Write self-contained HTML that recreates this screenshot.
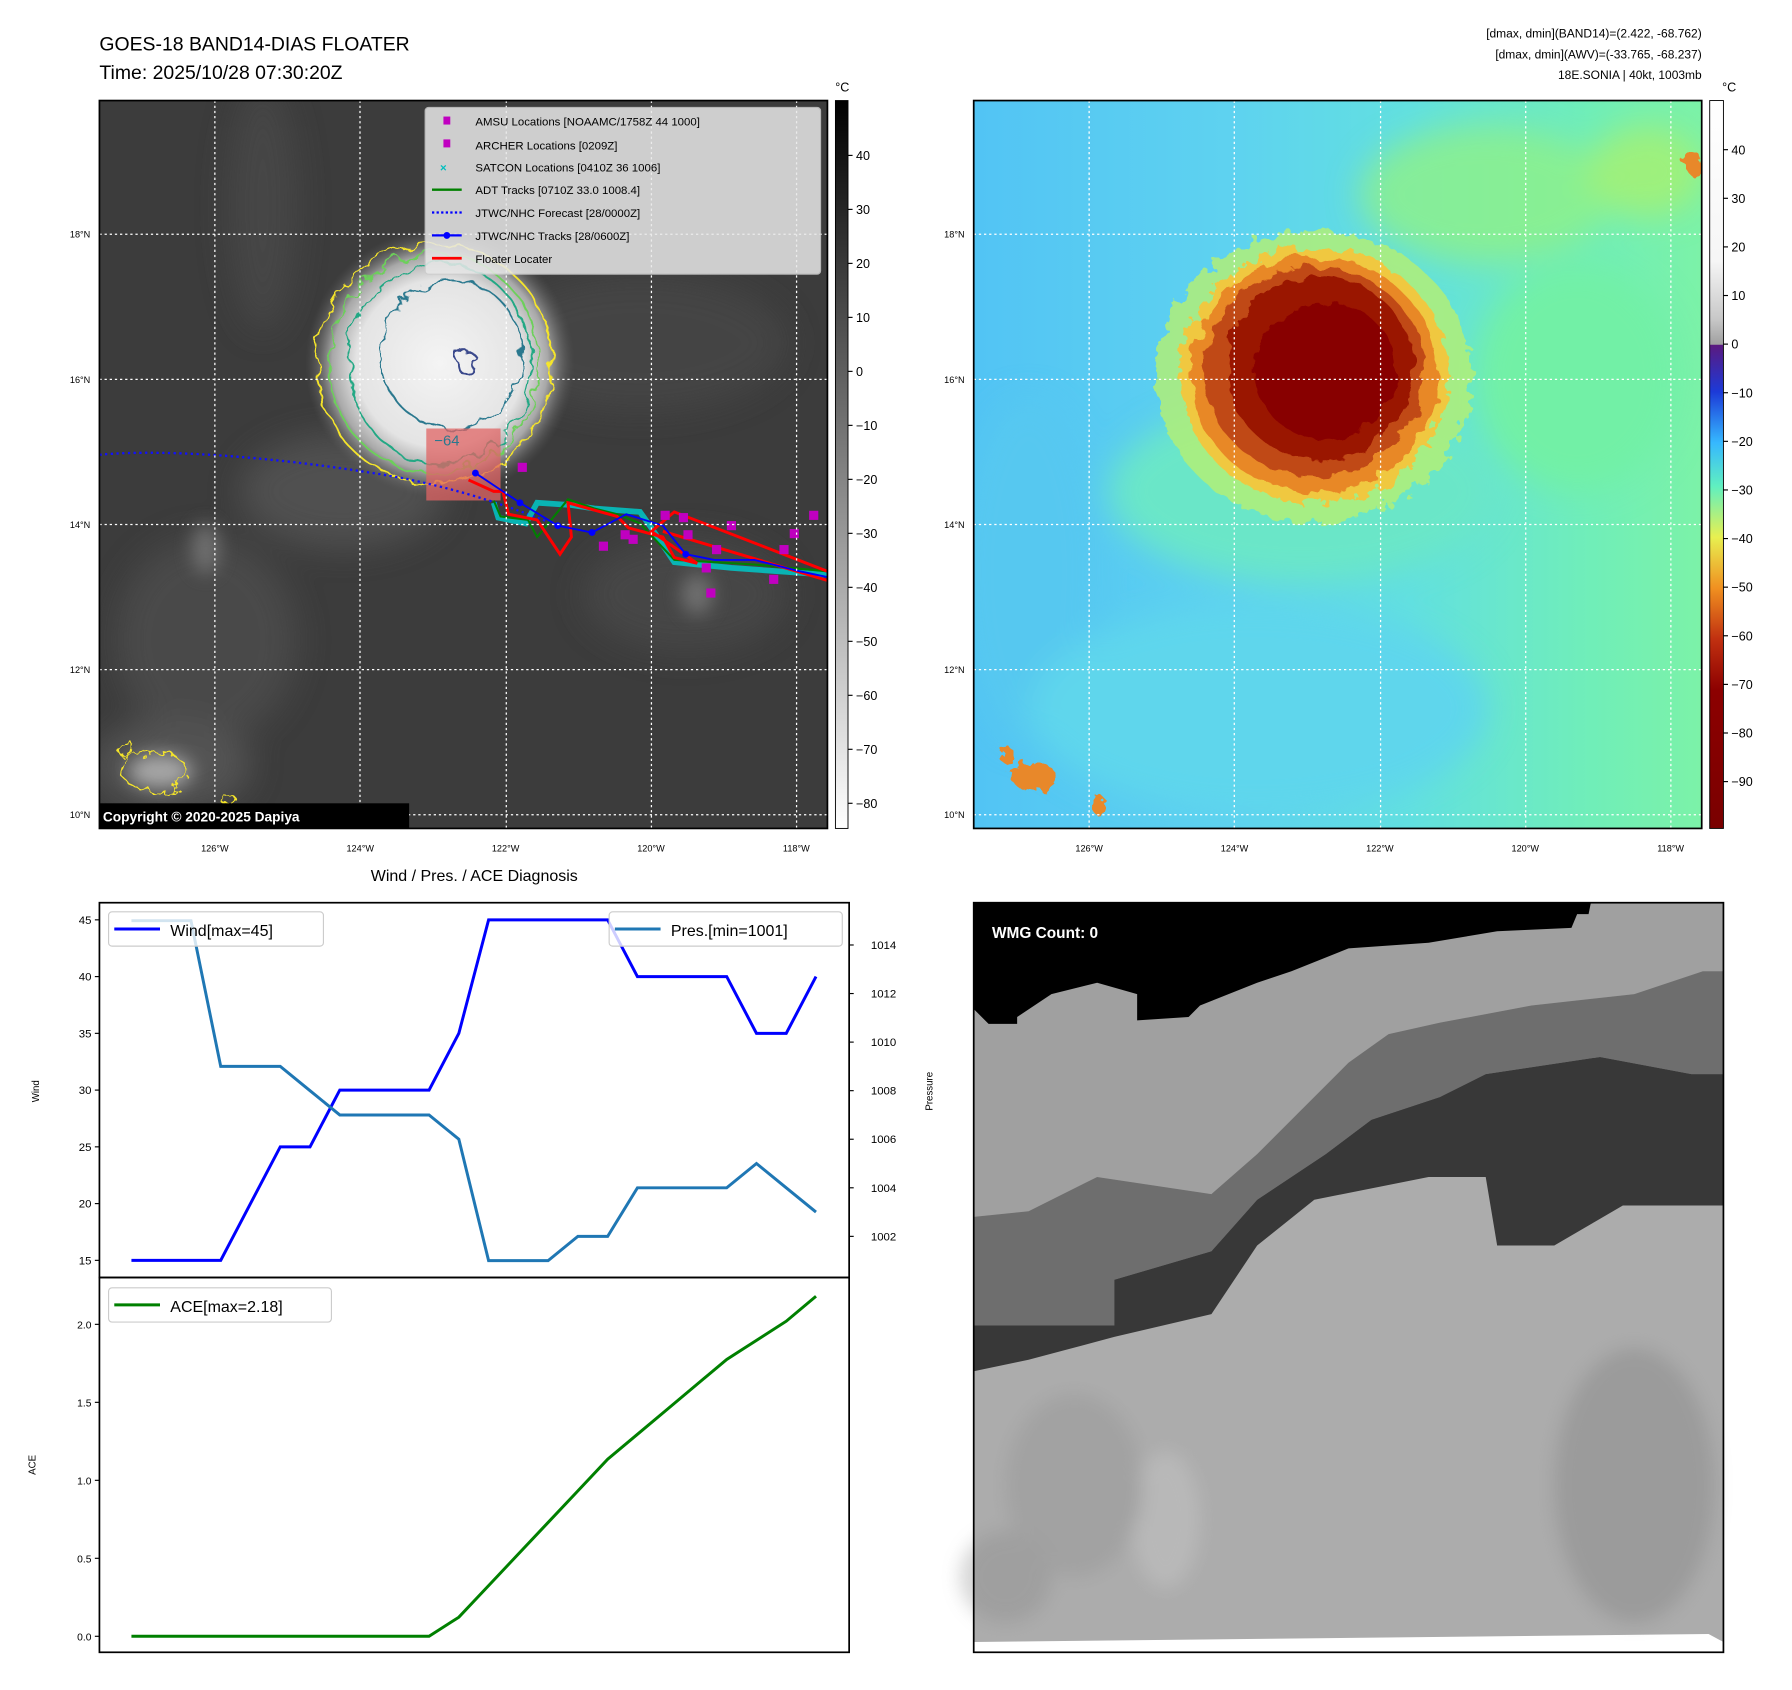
<!DOCTYPE html>
<html><head><meta charset="utf-8"><style>
html,body{margin:0;padding:0;background:#fff;}
svg{display:block;font-family:"Liberation Sans","DejaVu Sans",sans-serif;}
</style></head><body>
<svg id="root" width="1792" height="1690" viewBox="0 0 1568 1479" preserveAspectRatio="none">
<defs>
  <filter id="rough" x="-20%" y="-20%" width="140%" height="140%"><feTurbulence type="fractalNoise" baseFrequency="0.06" numOctaves="3" seed="3"/><feDisplacementMap in="SourceGraphic" scale="14"/></filter>
  <filter id="rough2" x="-20%" y="-20%" width="140%" height="140%"><feTurbulence type="fractalNoise" baseFrequency="0.09" numOctaves="3" seed="7"/><feDisplacementMap in="SourceGraphic" scale="18"/></filter>
  <filter id="blur8"><feGaussianBlur stdDeviation="8"/></filter>
  <filter id="blur14"><feGaussianBlur stdDeviation="14"/></filter>
  <radialGradient id="stormL" cx="0.5" cy="0.5" r="0.5"><stop offset="0" stop-color="#f4f4f4"/><stop offset="0.62" stop-color="#e4e4e4"/><stop offset="0.8" stop-color="#a8a8a8"/><stop offset="1" stop-color="#5a5a5a" stop-opacity="0"/></radialGradient>
  <linearGradient id="bgR" x1="0" y1="0" x2="1" y2="0"><stop offset="0" stop-color="#52c4f4"/><stop offset="0.35" stop-color="#5ed2f0"/><stop offset="0.6" stop-color="#62e0e0"/><stop offset="0.85" stop-color="#70eeb8"/><stop offset="1" stop-color="#7cf2a8"/></linearGradient>
  <linearGradient id="cbL" x1="0" y1="0" x2="0" y2="1"><stop offset="0" stop-color="#000"/><stop offset="1" stop-color="#fff"/></linearGradient>
  <linearGradient id="cbR" x1="0" y1="0" x2="0" y2="1">
    <stop offset="0" stop-color="#fff"/><stop offset="0.22" stop-color="#f6f6f6"/><stop offset="0.3" stop-color="#c8c8c8"/><stop offset="0.335" stop-color="#a0a0a0"/>
    <stop offset="0.336" stop-color="#5a1a80"/><stop offset="0.4" stop-color="#1c3ad8"/><stop offset="0.47" stop-color="#36b8ff"/><stop offset="0.53" stop-color="#60f0c0"/><stop offset="0.6" stop-color="#e8f050"/><stop offset="0.67" stop-color="#f09020"/><stop offset="0.74" stop-color="#c03010"/><stop offset="0.81" stop-color="#8c0000"/><stop offset="1" stop-color="#7a0000"/></linearGradient>
  <clipPath id="clipL"><rect x="87" y="88" width="637" height="637"/></clipPath>
  <clipPath id="clipR"><rect x="852" y="88" width="637" height="637"/></clipPath>
</defs>

<text x="87" y="44" font-size="17">GOES-18 BAND14-DIAS FLOATER</text>
<text x="87" y="69" font-size="17">Time: 2025/10/28 07:30:20Z</text>
<g font-size="10.5" text-anchor="end">
  <text x="1489" y="33">[dmax, dmin](BAND14)=(2.422, -68.762)</text>
  <text x="1489" y="51">[dmax, dmin](AWV)=(-33.765, -68.237)</text>
  <text x="1489" y="69">18E.SONIA | 40kt, 1003mb</text>
</g>

<!-- LEFT MAP -->
<g clip-path="url(#clipL)">
  <rect x="87" y="88" width="637" height="637" fill="#3c3c3c"/>
  <g filter="url(#blur14)" opacity="0.8">
    <ellipse cx="230" cy="180" rx="30" ry="110" fill="#4a4a4a"/>
    <ellipse cx="560" cy="300" rx="130" ry="60" fill="#474747"/>
    <ellipse cx="600" cy="520" rx="90" ry="50" fill="#4a4a4a"/>
    <ellipse cx="180" cy="560" rx="80" ry="90" fill="#4e4e4e"/>
    <ellipse cx="150" cy="670" rx="70" ry="40" fill="#5a5a5a"/>
    <ellipse cx="300" cy="430" rx="90" ry="50" fill="#555"/>
  </g>
  <g filter="url(#blur8)" fill="#7a7a7a" opacity="0.8">
    <ellipse cx="180" cy="480" rx="12" ry="22"/>
    <ellipse cx="610" cy="520" rx="14" ry="18"/>
    <ellipse cx="140" cy="675" rx="28" ry="15" fill="#bbb"/>
  </g>
  <circle cx="385" cy="318" r="118" fill="url(#stormL)"/>
  <g fill="none" stroke-width="1.6" filter="url(#rough)">
    <ellipse cx="380" cy="318" rx="103" ry="105" stroke="#f5e52a"/>
    <ellipse cx="380" cy="318" rx="92" ry="96" stroke="#6cd05a"/>
    <ellipse cx="385" cy="318" rx="80" ry="88" stroke="#22a884"/>
    <ellipse cx="395" cy="310" rx="62" ry="65" stroke="#2a788e"/>
  </g>
  <path d="M402,310 q8,-8 14,2 q-4,8 2,14 q-10,6 -16,-2 q-4,-6 0,-14z" fill="none" stroke="#3b4a8c" stroke-width="2" filter="url(#rough)"/>
  <g fill="none" stroke="#f5e52a" stroke-width="1.4" filter="url(#rough2)">
    <ellipse cx="135" cy="675" rx="28" ry="18"/><ellipse cx="110" cy="655" rx="6" ry="8"/><ellipse cx="200" cy="700" rx="6" ry="5"/>
  </g>
  <rect x="373" y="375" width="65" height="63" fill="#e06464" opacity="0.75"/>
  <text x="380" y="390" font-size="13" fill="#2a788e">−64</text>
  <path d="M87,398 C150,392 260,402 350,418 C410,430 450,445 488,460" fill="none" stroke="#1010ff" stroke-width="2" stroke-dasharray="2,3"/>
  <path d="M432,440 L436,453 L460,458 L470,440 L500,442 L520,445 L560,448 L570,462 L590,492 L640,497 L724,503" fill="none" stroke="#00c8c8" stroke-width="5" opacity="0.85"/>
  <path d="M432,438 L438,452 L462,455 L470,470 L497,437 L520,445 L540,450 L560,458 L590,490 L660,494 L724,500" fill="none" stroke="#008000" stroke-width="1.8"/>
  <path d="M410,420 L432,430 L440,430 L445,450 L470,455 L480,470 L490,485 L500,470 L497,440 L540,452 L550,462 L580,470 L590,488 L610,493 L570,465 L590,448 L724,500 M580,465 L724,508" fill="none" stroke="#ff0000" stroke-width="2.6"/>
  <polyline points="416,414 455,440 488,460 518,466 548,450 580,460 600,485 625,490 660,490 700,500 724,505" fill="none" stroke="#0000ff" stroke-width="1.6"/>
  <g fill="#0000ff"><circle cx="416" cy="414" r="3"/><circle cx="455" cy="440" r="3"/><circle cx="488" cy="460" r="3"/><circle cx="518" cy="466" r="3"/><circle cx="600" cy="485" r="3"/></g>
  <g fill="#c000c0">
    <rect x="453" y="405" width="8" height="8"/><rect x="524" y="474" width="8" height="8"/><rect x="543" y="464" width="8" height="8"/><rect x="550" y="468" width="8" height="8"/><rect x="578" y="447" width="8" height="8"/><rect x="594" y="449" width="8" height="8"/><rect x="598" y="464" width="8" height="8"/><rect x="618" y="515" width="8" height="8"/><rect x="623" y="477" width="8" height="8"/><rect x="636" y="456" width="8" height="8"/><rect x="673" y="503" width="8" height="8"/><rect x="682" y="477" width="8" height="8"/><rect x="691" y="463" width="8" height="8"/><rect x="708" y="447" width="8" height="8"/><rect x="614" y="493" width="8" height="8"/>
  </g>
  <g stroke="#fff" stroke-width="1.1" stroke-dasharray="2,2.5">
    <line x1="188" y1="88" x2="188" y2="725"/><line x1="315" y1="88" x2="315" y2="725"/><line x1="443" y1="88" x2="443" y2="725"/><line x1="570" y1="88" x2="570" y2="725"/><line x1="697" y1="88" x2="697" y2="725"/>
    <line x1="87" y1="205" x2="724" y2="205"/><line x1="87" y1="332" x2="724" y2="332"/><line x1="87" y1="459" x2="724" y2="459"/><line x1="87" y1="586" x2="724" y2="586"/><line x1="87" y1="713" x2="724" y2="713"/>
  </g>
  <g>
    <rect x="372" y="94" width="346" height="146" rx="3" fill="#e8e8e8" opacity="0.85" stroke="#ccc"/>
    <g font-size="10">
      <rect x="388" y="102" width="6" height="7" fill="#c000c0"/><text x="416" y="110">AMSU Locations [NOAAMC/1758Z 44 1000]</text>
      <rect x="388" y="122" width="6" height="7" fill="#c000c0"/><text x="416" y="131">ARCHER Locations [0209Z]</text>
      <text x="385" y="150" fill="#00bfbf" font-weight="bold" font-size="10">×</text><text x="416" y="150">SATCON Locations [0410Z 36 1006]</text>
      <line x1="378" y1="166" x2="404" y2="166" stroke="#008000" stroke-width="2"/><text x="416" y="170">ADT Tracks [0710Z 33.0 1008.4]</text>
      <line x1="378" y1="186" x2="404" y2="186" stroke="#0000ff" stroke-width="2" stroke-dasharray="2,2"/><text x="416" y="190">JTWC/NHC Forecast [28/0000Z]</text>
      <line x1="378" y1="206" x2="404" y2="206" stroke="#0000ff" stroke-width="2"/><circle cx="391" cy="206" r="3" fill="#0000ff"/><text x="416" y="210">JTWC/NHC Tracks [28/0600Z]</text>
      <line x1="378" y1="226" x2="404" y2="226" stroke="#ff0000" stroke-width="2.5"/><text x="416" y="230">Floater Locater</text>
    </g>
  </g>
  <rect x="87" y="703" width="271" height="22" fill="#000"/>
  <text x="90" y="719" font-size="12" font-weight="bold" fill="#fff">Copyright © 2020-2025 Dapiya</text>
</g>
<rect x="87" y="88" width="637" height="637" fill="none" stroke="#000" stroke-width="1.5"/>

<g>
  <rect x="731" y="88" width="11" height="637" fill="url(#cbL)" stroke="#000" stroke-width="0.8"/>
  <text x="737" y="80" font-size="11" text-anchor="middle">°C</text>
  <g font-size="11" id="cbLticks"></g>
</g>

<!-- RIGHT MAP -->
<g clip-path="url(#clipR)">
  <rect x="852" y="88" width="637" height="637" fill="url(#bgR)"/>
  <g filter="url(#blur14)">
    <ellipse cx="1300" cy="170" rx="110" ry="60" fill="#8ef088" opacity="0.8"/>
    <ellipse cx="1440" cy="150" rx="50" ry="40" fill="#a8f070" opacity="0.8"/>
    <ellipse cx="1380" cy="330" rx="90" ry="100" fill="#72f0a6"/>
    <ellipse cx="1140" cy="430" rx="170" ry="80" fill="#6ae6c8"/>
    <ellipse cx="900" cy="500" rx="60" ry="150" fill="#56c8f0"/>
    <ellipse cx="1100" cy="620" rx="200" ry="90" fill="#5ed6ec"/>
  </g>
  <g filter="url(#rough2)">
    <ellipse cx="1150" cy="330" rx="138" ry="128" fill="#b0ee78" opacity="0.85"/>
    <ellipse cx="1150" cy="328" rx="118" ry="112" fill="#f0c840"/>
  </g>
  <g filter="url(#rough)">
    <ellipse cx="1150" cy="328" rx="108" ry="103" fill="#e88828"/>
    <ellipse cx="1150" cy="325" rx="96" ry="92" fill="#c04a14"/>
    <ellipse cx="1155" cy="322" rx="82" ry="80" fill="#9a1200"/>
    <ellipse cx="1160" cy="325" rx="62" ry="60" fill="#880000"/>
  </g>
  <g filter="url(#rough2)" fill="#e8882c">
    <ellipse cx="905" cy="680" rx="20" ry="12"/><ellipse cx="880" cy="660" rx="6" ry="8"/><ellipse cx="962" cy="705" rx="6" ry="9"/><ellipse cx="1482" cy="143" rx="8" ry="10"/>
  </g>
  <g stroke="#fff" stroke-width="1.1" stroke-dasharray="2,2.5">
    <line x1="953" y1="88" x2="953" y2="725"/><line x1="1080" y1="88" x2="1080" y2="725"/><line x1="1208" y1="88" x2="1208" y2="725"/><line x1="1335" y1="88" x2="1335" y2="725"/><line x1="1462" y1="88" x2="1462" y2="725"/>
    <line x1="852" y1="205" x2="1489" y2="205"/><line x1="852" y1="332" x2="1489" y2="332"/><line x1="852" y1="459" x2="1489" y2="459"/><line x1="852" y1="586" x2="1489" y2="586"/><line x1="852" y1="713" x2="1489" y2="713"/>
  </g>
</g>
<rect x="852" y="88" width="637" height="637" fill="none" stroke="#000" stroke-width="1.5"/>
<g>
  <rect x="1496" y="88" width="12" height="637" fill="url(#cbR)" stroke="#000" stroke-width="0.8"/>
  <text x="1513" y="80" font-size="11" text-anchor="middle">°C</text>
  <g font-size="11" id="cbRticks"></g>
</g>

<g font-size="8" id="mapTicks"></g>

<!-- BOTTOM RIGHT -->
<g>
  <rect x="852" y="790" width="656" height="656" fill="#fff"/>
  <polygon points="852,790 1508,790 1508,1437 1495,1430 852,1437" fill="#acacac"/>
  <g filter="url(#blur8)" opacity="0.35">
    <ellipse cx="1020" cy="1330" rx="30" ry="60" fill="#d0d0d0"/>
    <ellipse cx="940" cy="1300" rx="60" ry="80" fill="#909090"/>
    <ellipse cx="1430" cy="1300" rx="70" ry="120" fill="#7c7c7c"/>
    <ellipse cx="880" cy="1380" rx="40" ry="40" fill="#888"/>
  </g>
  <polygon points="852,790 1508,790 1508,850 1490,850 1430,870 1340,880 1260,895 1215,905 1180,930 1140,970 1100,1010 1060,1045 960,1030 900,1060 852,1065" fill="#a0a0a0"/>
  <polygon points="852,1065 900,1060 960,1030 1060,1045 1100,1010 1140,970 1180,930 1215,905 1260,895 1340,880 1430,870 1490,850 1508,850 1508,940 1480,940 1400,925 1300,940 1260,960 1200,980 1160,1010 1100,1050 1060,1095 975,1120 975,1160 852,1160" fill="#6e6e6e"/>
  <polygon points="852,1160 975,1160 975,1120 1060,1095 1100,1050 1160,1010 1200,980 1260,960 1300,940 1400,925 1480,940 1508,940 1508,1055 1420,1055 1360,1090 1310,1090 1300,1030 1250,1030 1150,1050 1100,1090 1060,1150 975,1170 900,1190 852,1200" fill="#383838"/>
  <polygon points="852,790 1392,790 1390,800 1380,800 1375,812 1310,815 1250,825 1180,830 1130,850 1100,860 1050,880 1040,890 995,893 995,870 960,860 920,870 890,890 890,896 865,896 852,883" fill="#000"/>
  <text x="868" y="821" font-size="13.5" font-weight="bold" fill="#fff">WMG Count: 0</text>
  <rect x="852" y="790" width="656" height="656" fill="none" stroke="#000" stroke-width="1.5"/>
</g>

<text x="415" y="771" font-size="14" text-anchor="middle">Wind / Pres. / ACE Diagnosis</text>
<g id="charts"></g>
</svg>

<script>
const NS="http://www.w3.org/2000/svg";
const windVals=[15,15,15,15,20,25,25,30,30,30,30,35,45,45,45,45,45,40,40,40,40,35,35,40];
const presVals=[1015,1015,1015,1009,1009,1009,1008,1007,1007,1007,1007,1006,1001,1001,1001,1002,1002,1004,1004,1004,1004,1005,1004,1003];
const aceVals=[0,0,0,0,0,0,0,0,0,0,0,0.1225,0.325,0.5275,0.73,0.9325,1.135,1.295,1.455,1.615,1.775,1.8975,2.02,2.18];
const windTicks=[15,20,25,30,35,40,45];
const presTicks=[1002,1004,1006,1008,1010,1012,1014];
const aceTicks=[0.0,0.5,1.0,1.5,2.0];
const cbLTickVals=[40,30,20,10,0,-10,-20,-30,-40,-50,-60,-70,-80];
const cbRTickVals=[40,30,20,10,0,-10,-20,-30,-40,-50,-60,-70,-80,-90];
const lonTicks=[126,124,122,120,118];
const latTicks=[18,16,14,12,10];

function el(tag,attrs,parent){const e=document.createElementNS(NS,tag);for(const k in attrs)e.setAttribute(k,attrs[k]);(parent||document.getElementById('charts')).appendChild(e);return e;}
const X=i=>115+i*(599/(windVals.length-1));
const yW=w=>805+(45-w)*9.933;
const yP=p=>827+(1014-p)*21.25;
const yA=a=>1432-a*136.5;

let r=el('rect',{x:87,y:790,width:656,height:328,fill:'none',stroke:'#000','stroke-width':1.5});


let pw=el('polyline',{points:windVals.map((v,i)=>X(i)+','+yW(v)).join(' '),fill:'none',stroke:'#0000ff','stroke-width':2.6});


let pp=el('polyline',{points:presVals.map((v,i)=>X(i)+','+yP(v)).join(' '),fill:'none',stroke:'#1f77b4','stroke-width':2.6});


windTicks.forEach(t=>{const y=yW(t);el('line',{x1:83,y1:y,x2:87,y2:y,stroke:'#000'});const tx=el('text',{x:80,y:y+3.5,'font-size':10,'text-anchor':'end'});tx.textContent=t;});
presTicks.forEach(t=>{const y=yP(t);el('line',{x1:743,y1:y,x2:747,y2:y,stroke:'#000'});const tx=el('text',{x:762,y:y+3.5,'font-size':10});tx.textContent=t;});
let t1=el('text',{x:0,y:0,'font-size':8.5,'text-anchor':'middle',transform:'translate(34,955) rotate(-90)'});t1.textContent='Wind';


let t2=el('text',{x:0,y:0,'font-size':8.5,'text-anchor':'middle',transform:'translate(816,955) rotate(-90)'});t2.textContent='Pressure';


let lg1=el('g',{});


el('rect',{x:95,y:798,width:188,height:30,rx:3,fill:'#fff','fill-opacity':0.8,stroke:'#ccc'},lg1);
el('line',{x1:100,y1:813,x2:140,y2:813,stroke:'#0000ff','stroke-width':2.6},lg1);
let tt=el('text',{x:149,y:819,'font-size':14},lg1);tt.textContent='Wind[max=45]';
let lg2=el('g',{});


el('rect',{x:533,y:798,width:204,height:30,rx:3,fill:'#fff','fill-opacity':0.8,stroke:'#ccc'},lg2);
el('line',{x1:538,y1:813,x2:578,y2:813,stroke:'#1f77b4','stroke-width':2.6},lg2);
tt=el('text',{x:587,y:819,'font-size':14},lg2);tt.textContent='Pres.[min=1001]';

r=el('rect',{x:87,y:1118,width:656,height:328,fill:'none',stroke:'#000','stroke-width':1.5});


let pa=el('polyline',{points:aceVals.map((v,i)=>X(i)+','+yA(v)).join(' '),fill:'none',stroke:'#008000','stroke-width':2.6});


aceTicks.forEach(t=>{const y=yA(t);el('line',{x1:83,y1:y,x2:87,y2:y,stroke:'#000'});const tx=el('text',{x:80,y:y+3.5,'font-size':9,'text-anchor':'end'});tx.textContent=t.toFixed(1);});
let t3=el('text',{x:0,y:0,'font-size':8.5,'text-anchor':'middle',transform:'translate(31,1282) rotate(-90)'});t3.textContent='ACE';


let lg3=el('g',{});


el('rect',{x:95,y:1127,width:195,height:30,rx:3,fill:'#fff','fill-opacity':0.8,stroke:'#ccc'},lg3);
el('line',{x1:100,y1:1142,x2:140,y2:1142,stroke:'#008000','stroke-width':2.6},lg3);
tt=el('text',{x:149,y:1148,'font-size':14},lg3);tt.textContent='ACE[max=2.18]';

const cbL=document.getElementById('cbLticks');
cbLTickVals.forEach(v=>{const y=136+(40-v)*4.725;el('line',{x1:742,y1:y,x2:746,y2:y,stroke:'#000'},cbL);const tx=el('text',{x:749,y:y+4},cbL);tx.textContent=(v<0?'\u2212'+(-v):v);});
const cbR=document.getElementById('cbRticks');
cbRTickVals.forEach(v=>{const y=131+(40-v)*4.254;el('line',{x1:1508,y1:y,x2:1512,y2:y,stroke:'#000'},cbR);const tx=el('text',{x:1515,y:y+4},cbR);tx.textContent=(v<0?'\u2212'+(-v):v);});
const mt=document.getElementById('mapTicks');
[87,852].forEach(x0=>{
  lonTicks.forEach(l=>{const x=x0+101+(126-l)*63.6;const tx=el('text',{x:x,y:745,'text-anchor':'middle'},mt);tx.textContent=l+'°W';});
  latTicks.forEach(l=>{const y=205+(18-l)*63.5;const tx=el('text',{x:x0-8,y:y+3,'text-anchor':'end'},mt);tx.textContent=l+'°N';});
});
</script>
</body></html>
